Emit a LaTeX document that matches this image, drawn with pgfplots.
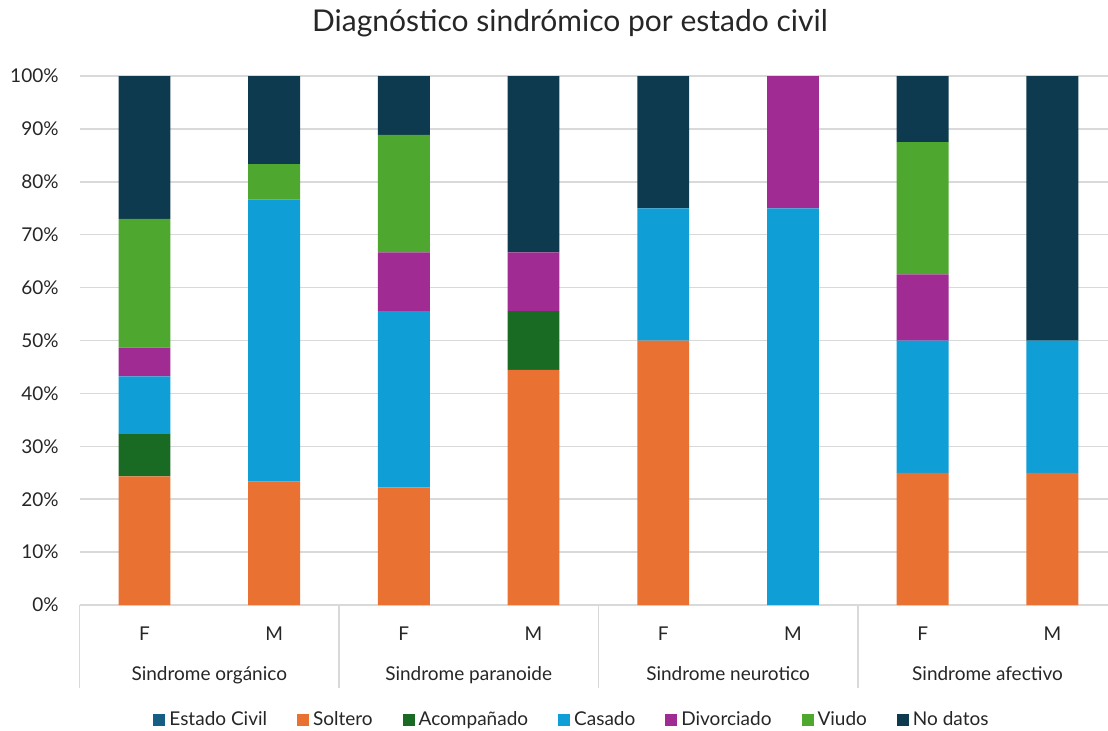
\documentclass[border=0pt]{standalone}
\usepackage{fontspec}
\setmainfont{Lato}
\usepackage{pgfplots}
\pgfplotsset{compat=1.18}

\definecolor{cEstado}{HTML}{156082}
\definecolor{cSoltero}{HTML}{E97132}
\definecolor{cAcomp}{HTML}{196B24}
\definecolor{cCasado}{HTML}{0F9ED5}
\definecolor{cDivor}{HTML}{A02B93}
\definecolor{cViudo}{HTML}{4EA72E}
\definecolor{cNodatos}{HTML}{0D3A4E}
\definecolor{gridc}{HTML}{D9D9D9}
\definecolor{textc}{HTML}{262626}

\tikzset{grp/.style={anchor=base, font=\fontsize{9.5}{11}\selectfont, text=textc},
  sep/.style={gridc, line width=0.75pt}}

\begin{document}
\begin{tikzpicture}
\path[use as bounding box] (-39.8pt,-62.5pt) rectangle (514.2pt,302.5pt);
\begin{axis}[
  at={(0,0)}, anchor=south west,
  scale only axis, width=518.8pt, height=264.5pt,
  ybar stacked, bar width=0.4,
  xmin=-0.5, xmax=7.5, ymin=0, ymax=100,
  xtick={0,...,7}, xticklabels={F,M,F,M,F,M,F,M},
  ytick={0,10,...,100},
  yticklabel={\pgfmathprintnumber{\tick}\%},
  axis x line*=bottom, axis y line*=left,
  y axis line style={draw=none},
  x axis line style={draw=gridc, line width=0.75pt},
  tick style={draw=none},
  ymajorgrids, grid style={gridc, line width=0.75pt},
  clip=false,
  /pgf/number format/assume math mode=true,
  ticklabel style={font=\fontsize{9.5}{11}\selectfont, text=textc},
  yticklabel style={xshift=-7pt},
  xticklabel style={anchor=base, yshift=-17.5pt},
  legend columns=-1,
  legend style={at={(0.4755,-0.2174)}, anchor=center, draw=none, fill=none,
    font=\fontsize{9.5}{11}\selectfont, text=textc,
    /tikz/every even column/.append style={column sep=13pt}},
  every axis plot post/.append style={draw=none,
    legend image code/.code={\fill[##1] (0pt,-3pt) rectangle (6pt,3pt);}},
]
\addplot[fill=cEstado] coordinates {(0,0) (1,0) (2,0) (3,0) (4,0) (5,0) (6,0) (7,0)};
\addlegendentry{Estado Civil}
\addplot[fill=cSoltero] coordinates {(0,24.32) (1,23.33) (2,22.22) (3,44.44) (4,50) (5,0) (6,25) (7,25)};
\addlegendentry{Soltero}
\addplot[fill=cAcomp] coordinates {(0,8.11) (1,0) (2,0) (3,11.11) (4,0) (5,0) (6,0) (7,0)};
\addlegendentry{Acompañado}
\addplot[fill=cCasado] coordinates {(0,10.81) (1,53.33) (2,33.33) (3,0) (4,25) (5,75) (6,25) (7,25)};
\addlegendentry{Casado}
\addplot[fill=cDivor] coordinates {(0,5.41) (1,0) (2,11.11) (3,11.11) (4,0) (5,25) (6,12.5) (7,0)};
\addlegendentry{Divorciado}
\addplot[fill=cViudo] coordinates {(0,24.32) (1,6.67) (2,22.22) (3,0) (4,0) (5,0) (6,25) (7,0)};
\addlegendentry{Viudo}
\addplot[fill=cNodatos] coordinates {(0,27.03) (1,16.67) (2,11.11) (3,33.33) (4,25) (5,0) (6,12.5) (7,50)};
\addlegendentry{No datos}

\draw[sep] (axis cs:-0.5,0) -- ++(0pt,-41.5pt);
\draw[sep] (axis cs:1.5,0) -- ++(0pt,-41.5pt);
\draw[sep] (axis cs:3.5,0) -- ++(0pt,-41.5pt);
\draw[sep] (axis cs:5.5,0) -- ++(0pt,-41.5pt);
\draw[sep] (axis cs:7.5,0) -- ++(0pt,-41.5pt);
\node[grp] at ([yshift=-37.8pt]axis cs:0.5,0) {Sindrome orgánico};
\node[grp] at ([yshift=-37.8pt]axis cs:2.5,0) {Sindrome paranoide};
\node[grp] at ([yshift=-37.8pt]axis cs:4.5,0) {Sindrome neurotico};
\node[grp] at ([yshift=-37.8pt]axis cs:6.5,0) {Sindrome afectivo};
\node[anchor=base, font=\fontsize{15}{18}\selectfont, text=textc] at (rel axis cs:0.4726,1.0832) {Diagnóstico sindrómico por estado civil};
\end{axis}
\end{tikzpicture}
\end{document}
